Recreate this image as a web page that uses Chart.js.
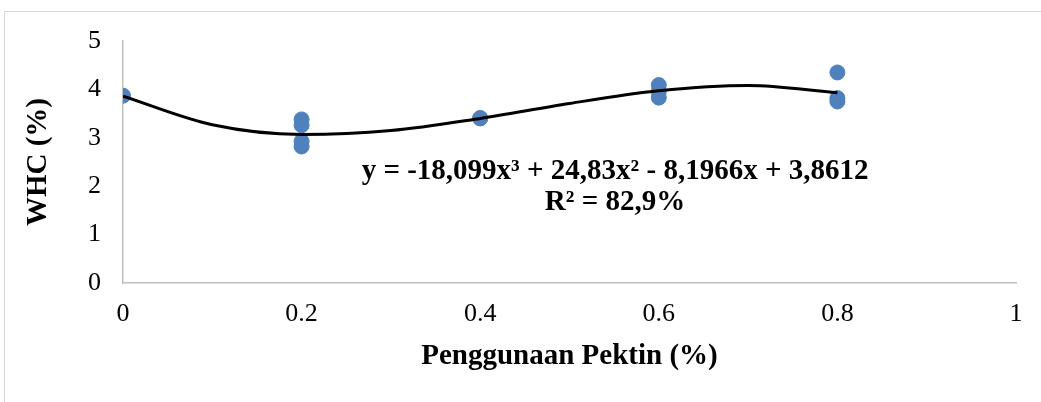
<!DOCTYPE html>
<html>
<head>
<meta charset="utf-8">
<script src="https://cdn.jsdelivr.net/npm/chart.js@4.4.1/dist/chart.umd.min.js"></script>
<style>
  html, body { margin: 0; padding: 0; background: #fff; }
  #wrap { position: relative; width: 1041px; height: 402px; }
</style>
</head>
<body>
<div id="wrap"><canvas id="whcChart" width="1041" height="402"></canvas></div>
<script>
// observed WHC values per pectin level
const pectinLevels = [0, 0.2, 0.2, 0.2, 0.2, 0.4, 0.4, 0.6, 0.6, 0.6, 0.8, 0.8, 0.8];
const whcValues = [3.87, 3.38, 3.26, 2.93, 2.82, 3.41, 3.40, 4.09, 3.96, 3.83, 4.35, 3.82, 3.75];

// points
const trendX = [0, 0.1, 0.2, 0.3, 0.4, 0.5, 0.6, 0.7, 0.8];
const trendY = [3.86, 3.27, 3.07, 3.15, 3.40, 3.71, 3.97, 4.08, 3.93];

const xTicks = [0, 0.2, 0.4, 0.6, 0.8, 1];
const equationText = 'y = -18,099x\u00B3 + 24,83x\u00B2 - 8,1966x + 3,8612';
const r2Text = 'R\u00B2 = 82,9%';

const serif = "'Liberation Serif', 'Times New Roman', serif";

const frameAndLabels = {
  id: 'frameAndLabels',
  beforeDraw(chart) {
    const ctx = chart.ctx;
    ctx.save();
    ctx.strokeStyle = '#d9d9d9';
    ctx.lineWidth = 1;
    ctx.strokeRect(4.5, 11.5, 1100, 500);
    ctx.restore();
  },
  afterDatasetsDraw(chart) {
    const ctx = chart.ctx;
    const xs = chart.scales.x;
    const ys = chart.scales.y;
    ctx.save();
    ctx.fillStyle = '#000';
    ctx.font = 'bold 29px ' + serif;
    ctx.textAlign = 'center';
    ctx.textBaseline = 'middle';
    const cx = xs.getPixelForValue(0.551);
    ctx.fillText(equationText, cx, ys.getPixelForValue(2.3));
    ctx.fillText(r2Text, cx, ys.getPixelForValue(1.66));
    ctx.restore();
  }
};

const ctx = document.getElementById('whcChart').getContext('2d');
new Chart(ctx, {
  type: 'scatter',
  data: {
    datasets: [
      {
        label: 'Trend',
        type: 'line',
        data: trendX.map((x, i) => ({ x: x, y: trendY[i] })),
        borderColor: '#000000',
        borderWidth: 3,
        pointRadius: 0,
        fill: false,
        cubicInterpolationMode: 'monotone',
        order: 1,
      },
      {
        label: 'WHC',
        data: pectinLevels.map((x, i) => ({ x: x, y: whcValues[i] })),
        backgroundColor: '#4f81bd',
        borderColor: '#4f81bd',
        pointRadius: 7.5,
        pointHoverRadius: 7.5,
        order: 2,
      },
    ],
  },
  options: {
    responsive: false,
    animation: false,
    layout: { padding: { left: 17, right: 25, top: 41, bottom: 0 } },
    plugins: {
      legend: { display: false },
      tooltip: { enabled: false },
    },
    scales: {
      x: {
        type: 'linear',
        min: 0,
        max: 1,
        afterBuildTicks: (scale) => {
          scale.ticks = xTicks.map((v) => ({ value: v }));
        },
        afterFit: (scale) => { scale.height = 119; },
        grid: { display: false, drawTicks: false },
        border: { color: '#bfbfbf', width: 1.5 },
        ticks: {
          padding: 16,
          color: '#000',
          font: { size: 26, family: serif },
          callback: (v) => String(v),
        },
        title: {
          display: true,
          text: 'Penggunaan Pektin (%)',
          color: '#000',
          font: { size: 29, weight: 'bold', family: serif },
          padding: { top: 0, bottom: 28 },
        },
      },
      y: {
        min: 0,
        max: 5,
        afterFit: (scale) => { scale.width = 106; },
        grid: { display: false, drawTicks: false },
        border: { color: '#bfbfbf', width: 1.5 },
        ticks: {
          stepSize: 1,
          padding: 22,
          color: '#000',
          font: { size: 26, family: serif },
        },
        title: {
          display: true,
          text: 'WHC (%)',
          color: '#000',
          font: { size: 29, weight: 'bold', family: serif },
          padding: { top: 4, bottom: 20 },
        },
      },
    },
  },
  plugins: [frameAndLabels],
});
</script>
</body>
</html>
